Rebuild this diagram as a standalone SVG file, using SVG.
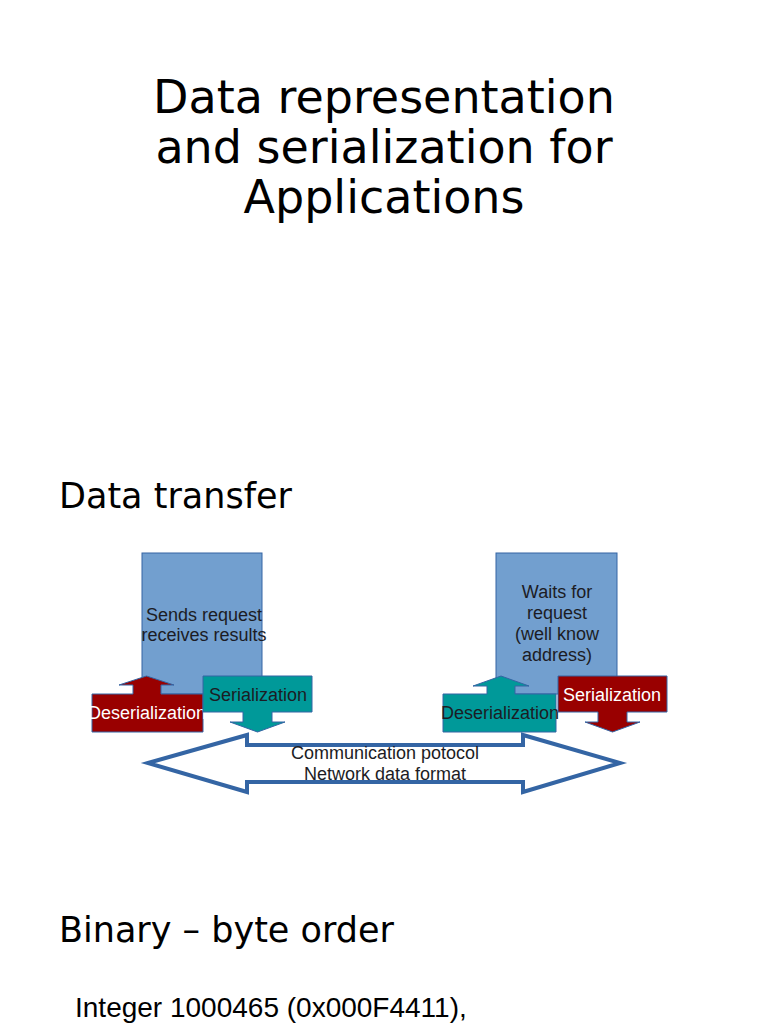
<svg xmlns="http://www.w3.org/2000/svg" width="768" height="1024" viewBox="0 0 768 1024">
<style>
.title{font-family:"DejaVu Sans",sans-serif;font-size:46px;fill:#000;text-anchor:middle}
.head{font-family:"DejaVu Sans",sans-serif;font-size:35px;fill:#000}
.body{font-family:"Liberation Sans",Arial,sans-serif;font-size:28px;fill:#000}
.lbl{font-family:"Liberation Sans",Arial,sans-serif;font-size:18px;fill:#1c1c24;text-anchor:middle}
.wlbl{font-family:"Liberation Sans",Arial,sans-serif;font-size:18px;fill:#fff;text-anchor:middle}
.box{fill:#729fcf;stroke:#3465a4;stroke-width:1}
.red{fill:#990000;stroke:#3465a4;stroke-width:1}
.teal{fill:#009999;stroke:#3465a4;stroke-width:1}
.dbl{fill:#fff;stroke:#3465a4;stroke-width:4;stroke-linejoin:miter}
</style>
<rect width="768" height="1024" fill="#fff"/>
<g id="title">
<text class="title" x="384" y="113">Data representation</text>
<text class="title" x="384" y="163">and serialization for</text>
<text class="title" x="384" y="213">Applications</text>
</g>
<text class="head" x="59" y="508">Data transfer</text>
<g id="client">
<rect class="box" x="142" y="553" width="120" height="141"/>
<text class="lbl" x="204" y="621">Sends request</text>
<text class="lbl" x="204" y="641">receives results</text>
</g>
<g id="server">
<rect class="box" x="496" y="553" width="121" height="141"/>
<text class="lbl" x="557" y="598">Waits for</text>
<text class="lbl" x="557" y="619">request</text>
<text class="lbl" x="557" y="640">(well know</text>
<text class="lbl" x="557" y="661">address)</text>
</g>
<g id="client-deser">
<polygon class="red" points="92,694 133,694 133,685 119,685 146.5,676 174,685 161,685 161,694 203,694 203,732 92,732"/>
<text class="wlbl" x="147" y="719">Deserialization</text>
</g>
<g id="client-ser">
<polygon class="teal" points="203,676 312,676 312,712 272,712 272,722 285,722 257.5,732 230,722 243,722 243,712 203,712"/>
<text class="lbl" x="258" y="701">Serialization</text>
</g>
<g id="server-deser">
<polygon class="teal" points="443,694 487,694 487,686 473,686 501,676 529,686 515,686 515,694 556,694 556,732 443,732"/>
<text class="lbl" x="500" y="719">Deserialization</text>
</g>
<g id="server-ser">
<polygon class="red" points="558,676 667,676 667,712 627,712 627,722 640,722 612.5,732 585,722 598,722 598,712 558,712"/>
<text class="wlbl" x="612" y="701">Serialization</text>
</g>
<g id="connectors">
<polygon class="dbl" points="148,763 247,735 247,745 523,745 523,735 620,763 523,792 523,782 247,782 247,792"/>
<text class="lbl" x="385" y="759">Communication potocol</text>
<text class="lbl" x="385" y="780">Network data format</text>
</g>
<text class="head" x="59" y="942">Binary – byte order</text>
<text class="body" x="75" y="1017">Integer 1000465 (0x000F4411),</text>
</svg>
